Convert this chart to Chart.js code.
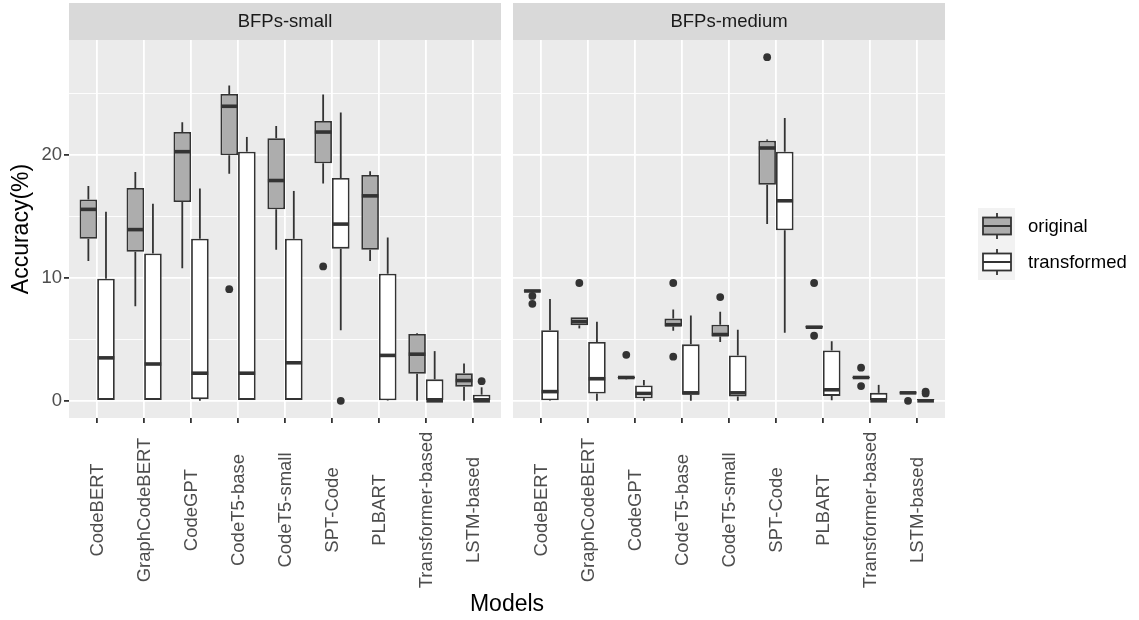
<!DOCTYPE html>
<html>
<head>
<meta charset="utf-8">
<script src="https://cdn.jsdelivr.net/npm/chart.js@4"></script>
<style>
  body { margin: 0; background: #ffffff; }
  #wrap { position: relative; width: 1139px; height: 620px; }
  #wrap canvas { position: absolute; left: 0; top: 0; }
</style>
</head>
<body>
<div id="wrap">
  <canvas id="small" width="1139" height="620"></canvas>
  <canvas id="medium" width="1139" height="620"></canvas>
</div>
<script>
// Modelos (eje x) y marcas del eje y
const models = ['CodeBERT', 'GraphCodeBERT', 'CodeGPT', 'CodeT5-base', 'CodeT5-small',
  'SPT-Code', 'PLBART', 'Transformer-based', 'LSTM-based'];
const yTicks = [0, 5, 10, 15, 20, 25];

// BFPs-small, original
const smallOrigLow  = [11.4, 7.7, 10.8, 18.5, 12.3, 17.7, 11.4, 0, 0];
const smallOrigQ1   = [13.2, 12.15, 16.2, 20.0, 15.6, 19.35, 12.3, 2.2, 1.15];
const smallOrigMed  = [15.6, 13.95, 20.3, 24.0, 17.95, 21.9, 16.7, 3.8, 1.65];
const smallOrigQ3   = [16.4, 17.35, 21.9, 25.0, 21.4, 22.8, 18.4, 5.45, 2.25];
const smallOrigHigh = [17.5, 18.65, 22.7, 25.7, 22.4, 24.95, 18.7, 5.5, 3.05];
const smallOrigOut  = [[], [], [], [9.1], [], [10.95], [], [], []];

// BFPs-small, transformed
const smallTrLow  = [0, 0, 0, 0, 0, 5.75, 0, 0, 0];
const smallTrQ1   = [0, 0, 0.15, 0, 0, 12.4, 0.05, 0, 0];
const smallTrMed  = [3.5, 3.0, 2.25, 2.25, 3.1, 14.4, 3.7, 0, 0];
const smallTrQ3   = [9.95, 12.0, 13.2, 20.3, 13.2, 18.15, 10.35, 1.75, 0.5];
const smallTrHigh = [15.4, 16.05, 17.3, 21.5, 17.1, 23.5, 13.3, 4.05, 1.1];
const smallTrOut  = [[], [], [], [], [], [0], [], [], [1.6]];

// BFPs-medium, original
const medOrigLow  = [8.85, 5.9, 1.75, 5.7, 4.8, 14.4, 5.85, 1.8, 0.55];
const medOrigQ1   = [8.9, 6.15, 1.85, 6.05, 5.25, 17.6, 5.95, 1.85, 0.6];
const medOrigMed  = [8.95, 6.45, 1.9, 6.2, 5.4, 20.6, 6.0, 1.9, 0.65];
const medOrigQ3   = [9.0, 6.8, 1.95, 6.7, 6.2, 21.2, 6.1, 1.95, 0.7];
const medOrigHigh = [9.0, 6.8, 1.95, 7.45, 7.25, 21.3, 6.1, 1.95, 0.7];
const medOrigOut  = [[8.55, 7.9], [9.6], [3.75], [9.6, 3.6], [8.45], [28.0], [9.6, 5.3], [2.7, 1.2], [0]];

// BFPs-medium, transformed
const medTrLow  = [0, 0, 0, 0, 0, 5.55, 0.05, 0, 0];
const medTrQ1   = [0.05, 0.6, 0.2, 0.5, 0.35, 13.9, 0.4, 0, 0];
const medTrMed  = [0.75, 1.8, 0.6, 0.65, 0.65, 16.3, 0.9, 0, 0];
const medTrQ3   = [5.75, 4.8, 1.25, 4.6, 3.7, 20.3, 4.1, 0.65, 0.15];
const medTrHigh = [8.3, 6.45, 1.7, 6.95, 5.8, 23.05, 4.85, 1.3, 0.15];
const medTrOut  = [[], [], [], [], [], [], [], [], [0.75, 0.6]];

const FONT = '"Liberation Sans", Arial, sans-serif';
const LINE = '#333333';
const FILL_ORIG = '#adadad';
const FILL_TR = '#ffffff';
const PANEL_BG = '#ebebeb';
const STRIP_BG = '#d9d9d9';

function boxDataset(label, fill, low, q1, med, q3, high, out) {
  return {
    label,
    data: q1.map((v, i) => [v, q3[i]]),
    backgroundColor: fill,
    borderColor: LINE,
    borderWidth: 1.8,
    borderSkipped: false,
    barPercentage: 1,
    categoryPercentage: 0.75,
    stats: { low, med, high, out, q1, q3 }
  };
}

// Bigotes, medianas y atípicos sobre las cajas, usando las escalas del gráfico
const boxParts = {
  id: 'boxParts',
  afterDatasetsDraw(chart) {
    const ctx = chart.ctx;
    const y = chart.scales.y;
    chart.data.datasets.forEach((ds, d) => {
      const meta = chart.getDatasetMeta(d);
      const s = ds.stats;
      meta.data.forEach((bar, i) => {
        const x = bar.x;
        const w = bar.width;
        ctx.save();
        ctx.strokeStyle = LINE;
        ctx.lineWidth = 1.8;
        ctx.beginPath();
        ctx.moveTo(x, y.getPixelForValue(s.q3[i]));
        ctx.lineTo(x, y.getPixelForValue(s.high[i]));
        ctx.moveTo(x, y.getPixelForValue(s.q1[i]));
        ctx.lineTo(x, y.getPixelForValue(s.low[i]));
        ctx.stroke();
        ctx.lineWidth = 3.6;
        ctx.beginPath();
        const ym = y.getPixelForValue(s.med[i]);
        ctx.moveTo(x - w / 2 + 0.5, ym);
        ctx.lineTo(x + w / 2 - 0.5, ym);
        ctx.stroke();
        ctx.fillStyle = LINE;
        s.out[i].forEach(v => {
          ctx.beginPath();
          ctx.arc(x, y.getPixelForValue(v), 3.9, 0, Math.PI * 2);
          ctx.fill();
        });
        ctx.restore();
      });
    });
  }
};

// Fondo del panel, tira con el nombre del panel y etiquetas del eje x
const facet = {
  id: 'facet',
  beforeDraw(chart, args, opts) {
    const { ctx, chartArea: a } = chart;
    ctx.save();
    ctx.fillStyle = PANEL_BG;
    ctx.fillRect(a.left, a.top, a.right - a.left, a.bottom - a.top);
    ctx.fillStyle = STRIP_BG;
    ctx.fillRect(a.left, 3, a.right - a.left, a.top - 3);
    ctx.fillStyle = '#1a1a1a';
    ctx.font = '18.5px ' + FONT;
    ctx.textAlign = 'center';
    ctx.textBaseline = 'middle';
    ctx.fillText(opts.title, (a.left + a.right) / 2, 22);
    ctx.restore();
  },
  afterDraw(chart, args, opts) {
    const { ctx } = chart;
    const xs = chart.scales.x;
    ctx.save();
    ctx.fillStyle = '#4d4d4d';
    ctx.font = '18.5px ' + FONT;
    ctx.textAlign = 'center';
    ctx.textBaseline = 'middle';
    chart.data.labels.forEach((lab, i) => {
      ctx.save();
      ctx.translate(xs.getPixelForValue(i) + 1, 510);
      ctx.rotate(-Math.PI / 2);
      ctx.fillText(lab, 0, 0);
      ctx.restore();
    });
    if (opts.axisTitle) {
      ctx.fillStyle = '#000000';
      ctx.font = '23px ' + FONT;
      ctx.fillText(opts.axisTitle, 507, 605);
    }
    ctx.restore();
  }
};

// Leyenda a la derecha, con el glifo de caja
const boxLegend = {
  id: 'boxLegend',
  afterDraw(chart) {
    const { ctx } = chart;
    const entries = [['original', FILL_ORIG, 226], ['transformed', FILL_TR, 262]];
    ctx.save();
    ctx.fillStyle = '#f2f2f2';
    ctx.fillRect(978, 208, 37, 72);
    entries.forEach(([text, fill, cy]) => {
      ctx.strokeStyle = LINE;
      ctx.lineWidth = 1.8;
      ctx.beginPath();
      ctx.moveTo(997, cy - 13); ctx.lineTo(997, cy + 13);
      ctx.stroke();
      ctx.fillStyle = fill;
      ctx.fillRect(983, cy - 8.5, 28, 17);
      ctx.strokeRect(983, cy - 8.5, 28, 17);
      ctx.lineWidth = 2;
      ctx.beginPath();
      ctx.moveTo(983, cy); ctx.lineTo(1011, cy);
      ctx.stroke();
      ctx.fillStyle = '#000000';
      ctx.font = '18.5px ' + FONT;
      ctx.textAlign = 'left';
      ctx.textBaseline = 'middle';
      ctx.fillText(text, 1028, cy + 1);
    });
    ctx.restore();
  }
};

function makePanel(canvasId, title, datasets, padLeft, padRight, showY) {
  return new Chart(document.getElementById(canvasId), {
    type: 'bar',
    data: { labels: models, datasets },
    options: {
      responsive: false,
      animation: false,
      events: [],
      layout: { padding: { top: 40, left: padLeft, right: padRight, bottom: 0 } },
      plugins: {
        legend: { display: false },
        tooltip: { enabled: false },
        facet: { title, axisTitle: showY ? 'Models' : null }
      },
      scales: {
        x: {
          type: 'category',
          offset: true,
          afterBuildTicks: (s) => { s._startValue = -0.6; s._valueRange = 9.2; },
          afterFit: (s) => { s.height = 202; },
          grid: { offset: false, color: '#ffffff', lineWidth: 1.8, tickColor: LINE, tickLength: 5 },
          border: { display: false },
          ticks: { display: false }
        },
        y: {
          min: -1.4,
          max: 29.4,
          afterBuildTicks: (s) => { s.ticks = yTicks.map(v => ({ value: v })); },
          afterFit: (s) => { s.width = showY ? 69 : 0; },
          grid: {
            color: '#ffffff',
            lineWidth: (c) => (c.tick && c.tick.value % 10 === 0 ? 1.8 : 0.9),
            tickColor: (c) => (c.tick && c.tick.value % 10 === 0 ? LINE : 'rgba(0,0,0,0)'),
            tickLength: 5,
            drawTicks: showY
          },
          border: { display: false },
          ticks: {
            display: showY,
            padding: 2,
            color: '#4d4d4d',
            font: { family: FONT, size: 18.5 },
            callback: (v) => (v % 10 === 0 ? String(v) : '')
          },
          title: {
            display: showY,
            text: 'Accuracy(%)',
            color: '#000000',
            font: { family: FONT, size: 23 },
            padding: { top: 8, bottom: 0 }
          }
        }
      }
    },
    plugins: showY ? [facet, boxParts] : [facet, boxParts, boxLegend]
  });
}

makePanel('small', 'BFPs-small', [
  boxDataset('original', FILL_ORIG, smallOrigLow, smallOrigQ1, smallOrigMed, smallOrigQ3, smallOrigHigh, smallOrigOut),
  boxDataset('transformed', FILL_TR, smallTrLow, smallTrQ1, smallTrMed, smallTrQ3, smallTrHigh, smallTrOut)
], 0, 638, true);

makePanel('medium', 'BFPs-medium', [
  boxDataset('original', FILL_ORIG, medOrigLow, medOrigQ1, medOrigMed, medOrigQ3, medOrigHigh, medOrigOut),
  boxDataset('transformed', FILL_TR, medTrLow, medTrQ1, medTrMed, medTrQ3, medTrHigh, medTrOut)
], 513, 194, false);
</script>
</body>
</html>
